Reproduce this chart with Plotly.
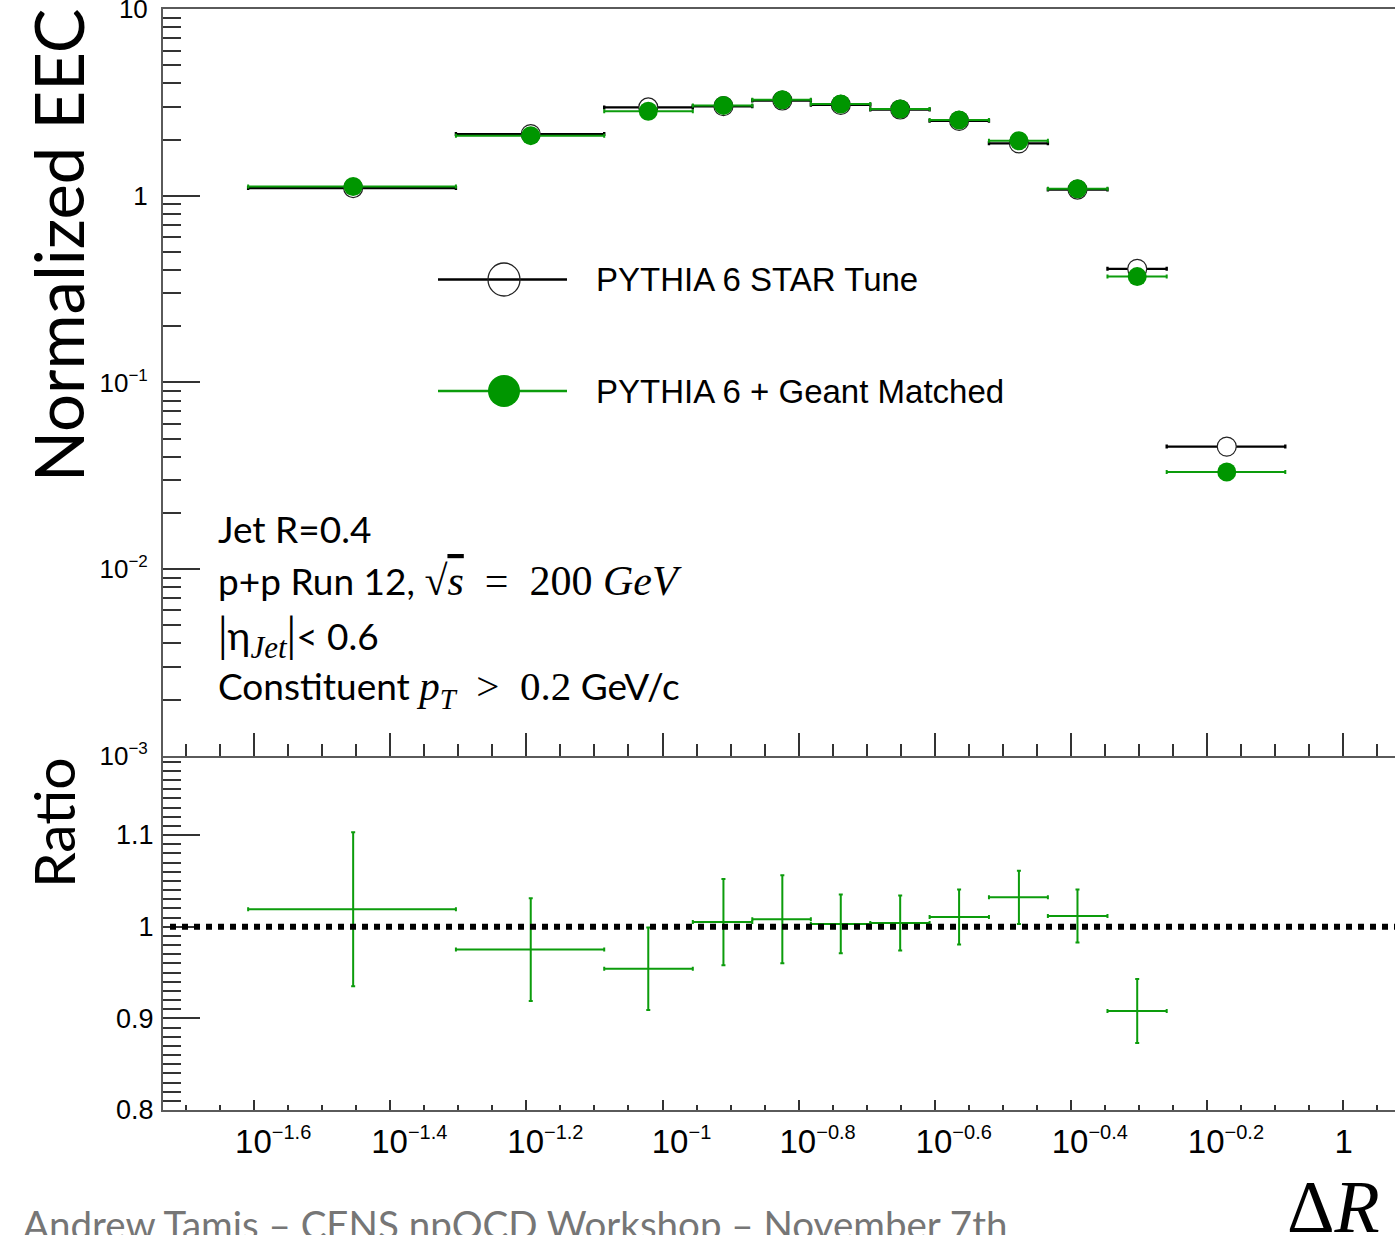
import plotly.graph_objects as go

# ---------------------------------------------------------------------------
# Data: energy-energy correlator vs. ΔR (log-spaced bins)
# ---------------------------------------------------------------------------
dr_low = [0.02461, 0.04971, 0.08210, 0.1108, 0.1355, 0.1652,
          0.2020, 0.2469, 0.3018, 0.3684, 0.4507, 0.5507]
dr_high = [0.04971, 0.08210, 0.1108, 0.1355, 0.1652, 0.2020,
           0.2469, 0.3018, 0.3684, 0.4507, 0.5507, 0.8226]
dr_center = [0.03511, 0.06403, 0.09530, 0.1229, 0.1500, 0.1828,
             0.2235, 0.2728, 0.3340, 0.4072, 0.4984, 0.6748]

eec_star_tune = [1.10, 2.14, 2.975, 3.02, 3.24, 3.07,
                 2.90, 2.52, 1.91, 1.08, 0.406, 0.0453]
eec_geant_matched = [1.122, 2.10, 2.84, 3.05, 3.27, 3.10,
                     2.92, 2.545, 1.97, 1.09, 0.369, 0.0331]

ratio_vals = [1.019, 0.975, 0.954, 1.005, 1.008, 1.003,
              1.004, 1.0105, 1.032, 1.0116, 0.908, 0.731]
ratio_errs = [0.084, 0.056, 0.045, 0.047, 0.048, 0.032,
              0.030, 0.030, 0.029, 0.029, 0.035, 0.040]

legend_names = ["PYTHIA 6 STAR Tune", "PYTHIA 6 + Geant Matched"]

# axis tick labelling
x_major_exp = [-1.6, -1.4, -1.2, -1.0, -0.8, -0.6, -0.4, -0.2, 0.0]
x_major_text = ["−1.6", "−1.4", "−1.2", "−1", "−0.8", "−0.6", "−0.4", "−0.2", ""]
y_major_exp = [-3, -2, -1, 0, 1]
ratio_ticks = [0.8, 0.85, 0.9, 0.95, 1.0, 1.05, 1.1, 1.15]
ratio_ticktext = ["0.8", "", "0.9", "", "1", "", "1.1", ""]

SERIF = "font-family:Liberation Serif"
NB = "\u00a0"
info_lines = [
    "Jet R=0.4",
    "p+p Run 12, <span style='%s;font-size:42px'>√<span style='text-decoration:overline'><i>s</i></span>"
    "%s=%s200%s<i>GeV</i></span>" % (SERIF, NB * 2, NB * 2, NB),
    "<span style='%s;font-size:48px'>|</span><span style='font-size:39px'>η</span>"
    "<sub><span style='%s;font-size:31px'><i>Jet</i></span></sub>"
    "<span style='%s;font-size:48px'>|</span>&lt; 0.6" % (SERIF, SERIF, SERIF),
    "Constituent <span style='%s;font-size:41px'><i>p</i><sub><i>T</i></sub>%s&gt;%s0.2</span> GeV/c"
    % (SERIF, NB * 2, NB * 2),
]
footer_text = "Andrew Tamis – CENS npQCD Workshop – November 7th"

# ---------------------------------------------------------------------------
# Geometry helpers (pixel -> paper)
# ---------------------------------------------------------------------------
W, H = 1395, 1235
ML, MR, MT, MB = 163, 0, 9, 125
PW = W - ML - MR
PH = H - MT - MB


def px(x):
    return (x - ML) / PW


def py(y):
    return (H - MB - y) / PH


GREEN = "#009600"
GREEN_LINE = "#0c9c0c"
AXIS = "#5a5a5a"
ROOT_FONT = "Liberation Sans"
SLIDE_FONT = "Lato"

err_plus = [h - c for h, c in zip(dr_high, dr_center)]
err_minus = [c - l for l, c in zip(dr_low, dr_center)]

fig = go.Figure()

fig.add_trace(go.Scatter(
    x=dr_center, y=eec_star_tune, mode="markers", name=legend_names[0],
    marker=dict(size=19, color="white", line=dict(color="#222", width=1.2)),
    error_x=dict(type="data", array=err_plus, arrayminus=err_minus,
                 color="black", thickness=2.4, width=2),
    xaxis="x", yaxis="y", showlegend=False,
))
fig.add_trace(go.Scatter(
    x=dr_center, y=eec_geant_matched, mode="markers", name=legend_names[1],
    marker=dict(size=19, color=GREEN, line=dict(width=0)),
    error_x=dict(type="data", array=err_plus, arrayminus=err_minus,
                 color=GREEN_LINE, thickness=2, width=2),
    xaxis="x", yaxis="y", showlegend=False,
))
fig.add_trace(go.Scatter(
    x=dr_center, y=ratio_vals, mode="markers", name="Ratio",
    marker=dict(size=2, color="rgba(0,0,0,0)"),
    error_x=dict(type="data", array=err_plus, arrayminus=err_minus,
                 color=GREEN_LINE, thickness=2, width=2),
    error_y=dict(type="data", array=ratio_errs,
                 color=GREEN_LINE, thickness=2, width=2),
    xaxis="x2", yaxis="y2", showlegend=False,
))

x_range = [-1.734, 0.0764]
x_major_vals = [10 ** e for e in x_major_exp]
x_minor_vals = [10 ** (-1.75 + 0.05 * k) for k in range(38)]
x_ticktext = ["10<sup><span style='font-size:20px'>%s</span></sup>" % t if t else
              "1" + NB * 4 for t in x_major_text]

y_major_vals = [10.0 ** e for e in y_major_exp]
y_ticktext = []
for e in y_major_exp:
    if e == 0:
        y_ticktext.append("1")
    elif e == 1:
        y_ticktext.append("10")
    else:
        y_ticktext.append("10<sup><span style='font-size:17px'>−%d</span></sup>" % (-e))
y_minor_vals = [k * 10.0 ** n for n in range(-3, 1) for k in range(2, 10)]
ratio_minor = [round(0.8 + 0.01 * k, 2) for k in range(39)]

common_axis = dict(showgrid=False, zeroline=False, showline=True,
                   linecolor=AXIS, linewidth=2, ticks="inside",
                   tickcolor="#333", tickwidth=1.5)

fig.update_layout(
    width=W, height=H,
    margin=dict(l=ML, r=MR, t=MT, b=MB, autoexpand=False),
    paper_bgcolor="white", plot_bgcolor="white",
    showlegend=False,
    xaxis=dict(type="log", range=x_range, domain=[0, 1], anchor="y",
               tickmode="array", tickvals=x_major_vals, ticklen=23,
               showticklabels=False, mirror=True,
               minor=dict(tickmode="array", tickvals=x_minor_vals, ticklen=12,
                          ticks="inside", tickcolor="#333", tickwidth=1.5),
               **common_axis),
    yaxis=dict(type="log", range=[-3, 1.0008], domain=[py(755.7), 1], anchor="x",
               tickmode="array", tickvals=y_major_vals, ticktext=y_ticktext,
               ticklen=37, ticklabelstandoff=8, ticklabeloverflow="allow",
               tickfont=dict(family=ROOT_FONT, size=26, color="black"),
               minor=dict(tickmode="array", tickvals=y_minor_vals, ticklen=18,
                          ticks="inside", tickcolor="#333", tickwidth=1.5),
               **common_axis),
    xaxis2=dict(type="log", range=x_range, domain=[0, 1], anchor="y2",
                tickmode="array", tickvals=x_major_vals, ticktext=x_ticktext,
                ticklen=10, ticklabelshift=19, ticklabelstandoff=1,
                tickfont=dict(family=ROOT_FONT, size=33, color="black"),
                minor=dict(tickmode="array", tickvals=x_minor_vals, ticklen=5,
                           ticks="inside", tickcolor="#333", tickwidth=1.5),
                **common_axis),
    yaxis2=dict(range=[0.8, 1.184], domain=[0, py(758)], anchor="x2",
                tickmode="array", tickvals=ratio_ticks, ticktext=ratio_ticktext,
                ticklen=37, ticklabelstandoff=2,
                tickfont=dict(family=ROOT_FONT, size=27, color="black"),
                minor=dict(tickmode="array", tickvals=ratio_minor, ticklen=18,
                           ticks="inside", tickcolor="#333", tickwidth=1.5),
                **common_axis),
)

# reference line at ratio = 1
fig.add_shape(type="line", xref="x2 domain", yref="y2",
              x0=px(170), x1=1, y0=1, y1=1,
              line=dict(color="black", width=6, dash="6px,6px"))

# legend drawn as line + marker glyphs
leg_y = [279.5, 391]
leg_line_col = ["black", GREEN_LINE]
for i in range(2):
    fig.add_shape(type="line", xref="paper", yref="paper",
                  x0=px(438), x1=px(567), y0=py(leg_y[i]), y1=py(leg_y[i]),
                  line=dict(color=leg_line_col[i], width=2.5))
fig.add_shape(type="circle", xref="paper", yref="paper",
              x0=px(488), x1=px(520), y0=py(leg_y[0] + 16.5), y1=py(leg_y[0] - 16.5),
              fillcolor="rgba(0,0,0,0)", line=dict(color="#222", width=1.3))
fig.add_shape(type="circle", xref="paper", yref="paper",
              x0=px(488), x1=px(520), y0=py(leg_y[1] + 16), y1=py(leg_y[1] - 16),
              fillcolor=GREEN, line=dict(color=GREEN, width=0))
for i in range(2):
    fig.add_annotation(text=legend_names[i], xref="paper", yref="paper",
                       x=px(594), y=py(leg_y[i]), xanchor="left", yanchor="middle",
                       showarrow=False,
                       font=dict(family=ROOT_FONT, size=33, color="black"))

# jet selection text
info_y = [528, 581, 636, 689]
for t, yy in zip(info_lines, info_y):
    fig.add_annotation(text=t, xref="paper", yref="paper",
                       x=px(216), y=py(yy), xanchor="left", yanchor="middle",
                       showarrow=False,
                       font=dict(family=SLIDE_FONT, size=37, color="black"))

# axis titles
fig.add_annotation(text="Normalized EEC", xref="paper", yref="paper",
                   x=px(58), y=py(245), xanchor="center", yanchor="middle",
                   textangle=-90, showarrow=False,
                   font=dict(family=SLIDE_FONT, size=67, color="black"))
fig.add_annotation(text="Ratio", xref="paper", yref="paper",
                   x=px(53), y=py(823), xanchor="center", yanchor="middle",
                   textangle=-90, showarrow=False,
                   font=dict(family=SLIDE_FONT, size=57, color="black"))
fig.add_annotation(text="Δ<i>R</i>", xref="paper", yref="paper",
                   x=px(1333), y=py(1207), xanchor="center", yanchor="middle",
                   showarrow=False,
                   font=dict(family="Liberation Serif", size=74, color="black"))

# footer line
fig.add_annotation(text=footer_text, xref="paper", yref="paper",
                   x=px(21), y=py(1224), xanchor="left", yanchor="middle",
                   showarrow=False,
                   font=dict(family=SLIDE_FONT, size=38.5, color="#767676"))

fig.write_html("out.html")
